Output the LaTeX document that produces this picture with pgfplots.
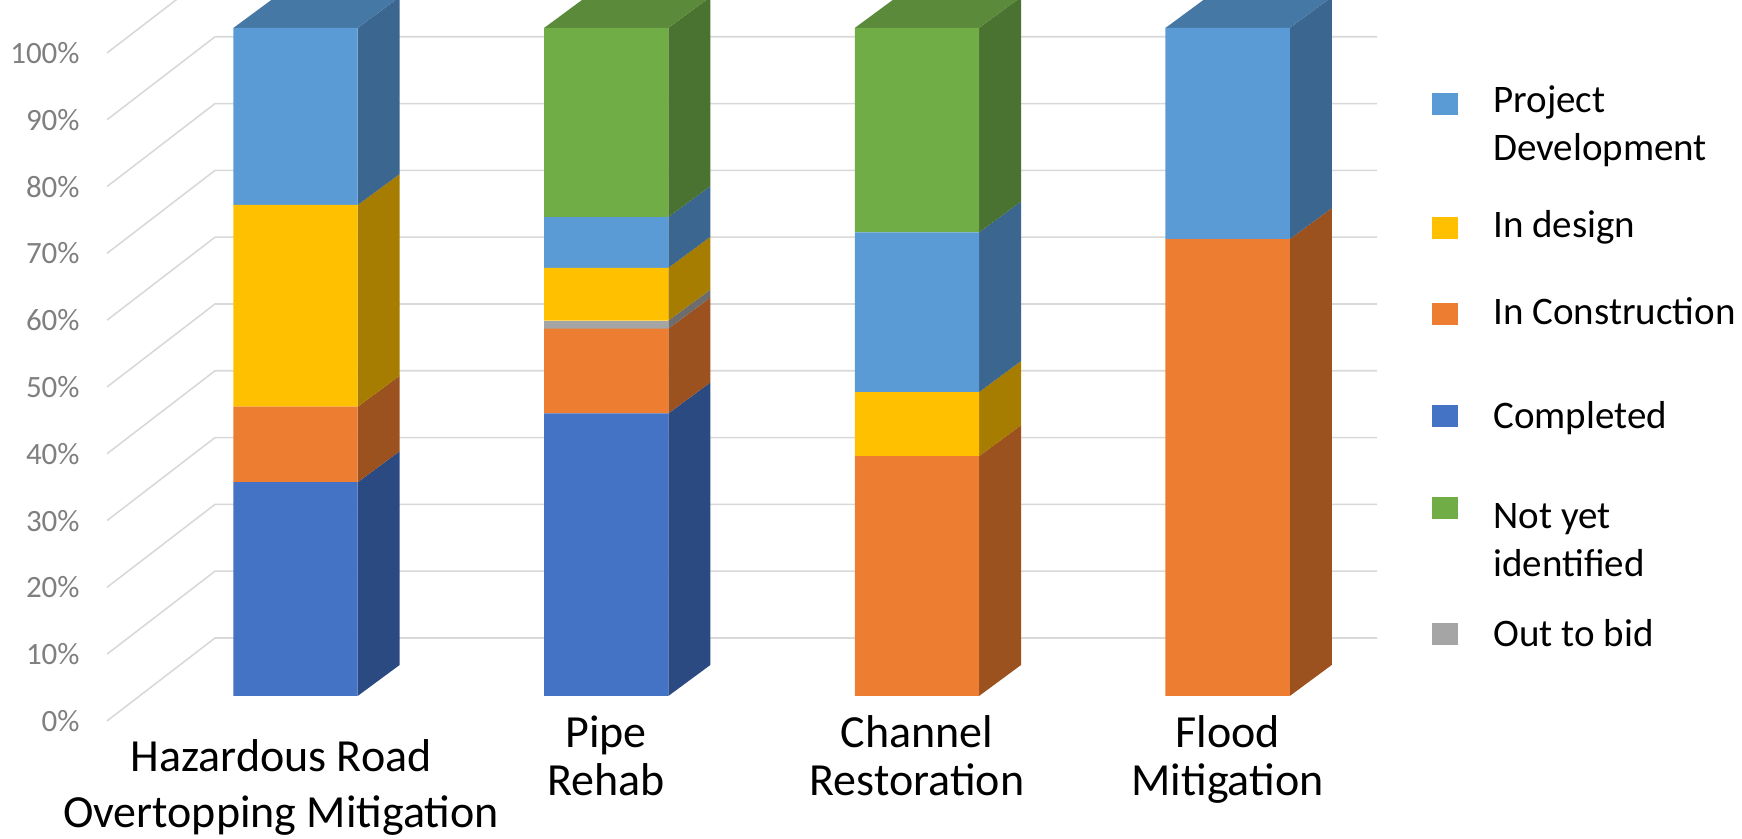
\documentclass[border=0pt]{standalone}
\usepackage{pgfplots}
\usepackage{pgfplotstable}
\pgfplotsset{compat=1.18}
\usepackage{fontspec}
\setmainfont{Carlito}

\definecolor{cComp}{HTML}{4472C4}
\definecolor{cCompS}{HTML}{2C4A82}
\definecolor{cCons}{HTML}{ED7D31}
\definecolor{cConsS}{HTML}{9C521F}
\definecolor{cBid}{HTML}{A5A5A5}
\definecolor{cBidS}{HTML}{6D6D6D}
\definecolor{cDes}{HTML}{FFC000}
\definecolor{cDesS}{HTML}{A67D00}
\definecolor{cDev}{HTML}{5B9BD5}
\definecolor{cDevS}{HTML}{3A6690}
\definecolor{cDevT}{HTML}{4678A6}
\definecolor{cNot}{HTML}{70AD47}
\definecolor{cNotS}{HTML}{4A7230}
\definecolor{cNotT}{HTML}{5A8A3A}
\definecolor{cGrid}{HTML}{D9D9D9}
\definecolor{cTick}{HTML}{7F7F7F}

% bottom-to-top: Completed, In Construction, Out to bid, In design, Project Development, Not yet identified
\pgfplotstableread{
x comp cons bid des dev not
0 32.0 11.3 0   30.2 26.5 0
1 42.3 12.7 1.2 7.9  7.6  28.3
2 0    35.9 0   9.6  23.9 30.6
3 0    68.4 0   0    31.6 0
}\datatable

% side face of a bar segment (3D look)
\newcommand\sideface[4]{%
\pgfmathsetmacro\sfxa{#1+0.2}%
\pgfmathsetmacro\sfxb{#1+0.3352}%
\pgfmathsetmacro\sfyb{#2+4.64}%
\pgfmathsetmacro\sfyc{#3+4.64}%
\edef\sftemp{\noexpand\addplot[fill=#4,draw=none,forget plot] coordinates {(\sfxa,#2) (\sfxb,\sfyb) (\sfxb,\sfyc) (\sfxa,#3)};}%
\sftemp}
% top face of a bar
\newcommand\topface[2]{%
\pgfmathsetmacro\tfa{#1-0.2}\pgfmathsetmacro\tfb{#1+0.2}%
\pgfmathsetmacro\tfc{#1+0.3352}\pgfmathsetmacro\tfd{#1-0.0648}%
\edef\tftemp{\noexpand\addplot[fill=#2,draw=none,forget plot] coordinates {(\tfa,100) (\tfb,100) (\tfc,104.64) (\tfd,104.64)};}%
\tftemp}

\pgfplotsset{
  common/.style={scale only axis, width=871pt, height=419.5pt,
    xmin=-0.9511, xmax=4.6556, ymin=-21.41, ymax=104.19, clip=true},
  gl/.style={cGrid, line width=0.8pt, forget plot},
}
\tikzset{
  lgkey/.style={minimum width=13pt, minimum height=11pt, inner sep=0pt, outer sep=0pt, draw=none, anchor=north west},
  lgtext/.style={anchor=base west, inner sep=0pt, font=\fontsize{19.5}{24}\selectfont, text=black},
}

\begin{document}
\begin{tikzpicture}
% ---- background: walls' gridlines and 3D side/top faces
\begin{axis}[common, hide axis]
\addplot[gl] coordinates {(-0.6067,-3.74) (-0.2591,8.68) (3.4808,8.68)};
\addplot[gl] coordinates {(-0.6067,6.26) (-0.2591,18.68) (3.4808,18.68)};
\addplot[gl] coordinates {(-0.6067,16.26) (-0.2591,28.68) (3.4808,28.68)};
\addplot[gl] coordinates {(-0.6067,26.26) (-0.2591,38.68) (3.4808,38.68)};
\addplot[gl] coordinates {(-0.6067,36.26) (-0.2591,48.68) (3.4808,48.68)};
\addplot[gl] coordinates {(-0.6067,46.26) (-0.2591,58.68) (3.4808,58.68)};
\addplot[gl] coordinates {(-0.6067,56.26) (-0.2591,68.68) (3.4808,68.68)};
\addplot[gl] coordinates {(-0.6067,66.26) (-0.2591,78.68) (3.4808,78.68)};
\addplot[gl] coordinates {(-0.6067,76.26) (-0.2591,88.68) (3.4808,88.68)};
\addplot[gl] coordinates {(-0.6067,86.26) (-0.2591,98.68) (3.4808,98.68)};
\addplot[gl] coordinates {(-0.6067,96.26) (-0.2591,108.68) (3.4808,108.68)};
% Hazardous Road Overtopping Mitigation
\sideface{0}{0}{32.0}{cCompS}
\sideface{0}{32.0}{43.3}{cConsS}
\sideface{0}{43.3}{73.5}{cDesS}
\sideface{0}{73.5}{100}{cDevS}
\topface{0}{cDevT}
% Pipe Rehab
\sideface{1}{0}{42.3}{cCompS}
\sideface{1}{42.3}{55.0}{cConsS}
\sideface{1}{55.0}{56.2}{cBidS}
\sideface{1}{56.2}{64.1}{cDesS}
\sideface{1}{64.1}{71.7}{cDevS}
\sideface{1}{71.7}{100}{cNotS}
\topface{1}{cNotT}
% Channel Restoration
\sideface{2}{0}{35.9}{cConsS}
\sideface{2}{35.9}{45.5}{cDesS}
\sideface{2}{45.5}{69.4}{cDevS}
\sideface{2}{69.4}{100}{cNotS}
\topface{2}{cNotT}
% Flood Mitigation
\sideface{3}{0}{68.4}{cConsS}
\sideface{3}{68.4}{100}{cDevS}
\topface{3}{cDevT}
\end{axis}
% ---- front faces, ticks, legend
\begin{axis}[common, ybar stacked, bar width=0.4,
  axis line style={draw=none}, tick style={draw=none},
  ytick={0,10,20,30,40,50,60,70,80,90,100},
  yticklabels={0\%,10\%,20\%,30\%,40\%,50\%,60\%,70\%,80\%,90\%,100\%},
  yticklabel style={font=\fontsize{15.5}{18}\selectfont, text=cTick, anchor=east,
    inner sep=0pt, xshift=40pt, yshift=-12.5pt},
  xtick={1,2,3},
  xticklabels={{Pipe\\Rehab},{Channel\\Restoration},{Flood\\Mitigation}},
  xticklabel style={font=\fontsize{23}{24}\selectfont, align=center,
    anchor=north, inner sep=0pt, yshift=62pt, text=black},
  extra x ticks={0},
  extra x tick labels={{Hazardous Road\\Overtopping Mitigation}},
  extra x tick style={xticklabel style={font=\fontsize{23}{28}\selectfont, yshift=-12pt, xshift=-7.25pt}},
]
\addplot[fill=cComp, draw=none] table[x=x, y=comp] {\datatable};
\addplot[fill=cCons, draw=none] table[x=x, y=cons] {\datatable};
\addplot[fill=cBid,  draw=none] table[x=x, y=bid]  {\datatable};
\addplot[fill=cDes,  draw=none] table[x=x, y=des]  {\datatable};
\addplot[fill=cDev,  draw=none] table[x=x, y=dev]  {\datatable};
\addplot[fill=cNot,  draw=none] table[x=x, y=not]  {\datatable};
% legend
\node[lgkey, fill=cDev]  at (rel axis cs:0.82204,0.88915) {};
\node[lgkey, fill=cDes]  at (rel axis cs:0.82204,0.74136) {};
\node[lgkey, fill=cCons] at (rel axis cs:0.82204,0.63886) {};
\node[lgkey, fill=cComp] at (rel axis cs:0.82204,0.51728) {};
\node[lgkey, fill=cNot]  at (rel axis cs:0.82204,0.40763) {};
\node[lgkey, fill=cBid]  at (rel axis cs:0.82204,0.25745) {};
\node[lgtext] at (rel axis cs:0.85706,0.86591) {\begin{tabular}[t]{@{}l@{}}Project\\Development\end{tabular}};
\node[lgtext] at (rel axis cs:0.85706,0.71692) {In design};
\node[lgtext] at (rel axis cs:0.85706,0.61323) {In Construction};
\node[lgtext] at (rel axis cs:0.85706,0.48927) {Completed};
\node[lgtext] at (rel axis cs:0.85706,0.37008) {\begin{tabular}[t]{@{}l@{}}Not yet\\identified\end{tabular}};
\node[lgtext] at (rel axis cs:0.85706,0.22944) {Out to bid};
\end{axis}
\pgfresetboundingbox
\useasboundingbox (current axis.south west) rectangle (current axis.north east);
\end{tikzpicture}
\end{document}
